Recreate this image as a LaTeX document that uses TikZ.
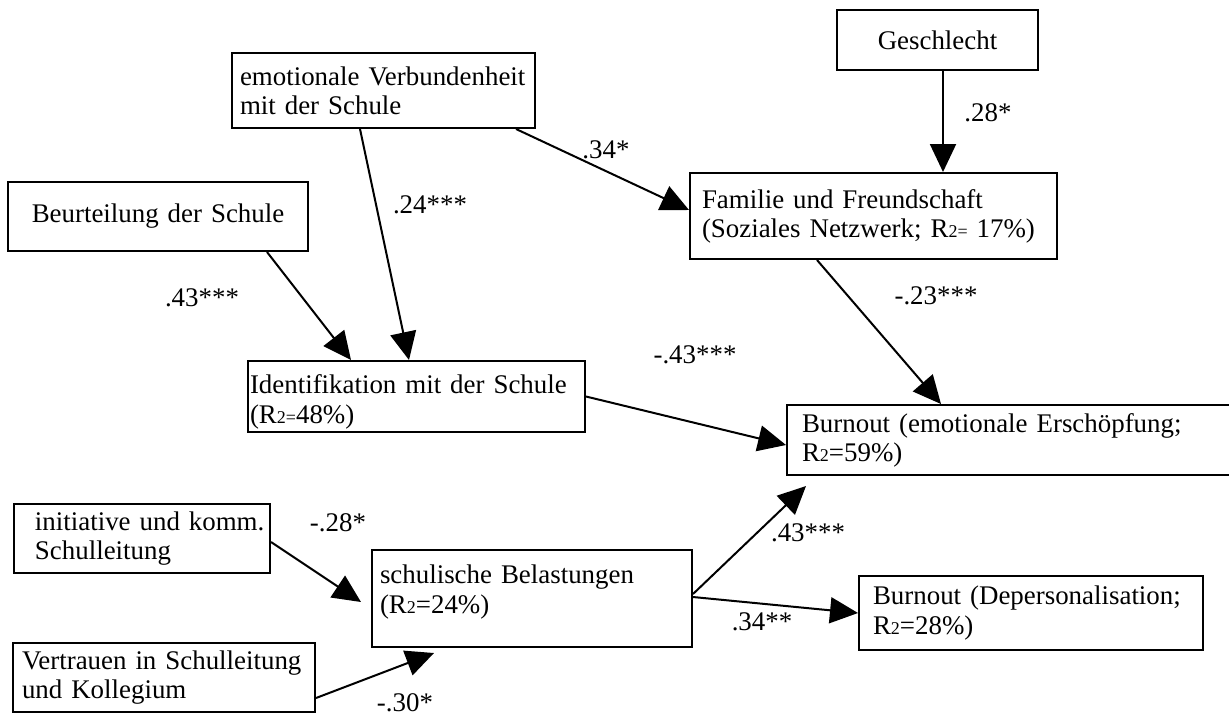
\documentclass[tikz,border=0pt]{standalone}
\usepackage{fontspec}
\setmainfont{Liberation Serif}
\usetikzlibrary{arrows.meta}
\newcommand{\Rsq}[1]{R{\fontsize{9}{9}\selectfont #1}}
\tikzset{
  box/.style={draw, line width=1pt, rectangle, align=left, inner ysep=0pt,
    font=\fontsize{13.45pt}{14.6pt}\selectfont},
  coef/.style={inner sep=0pt, font=\fontsize{13.45pt}{14.6pt}\selectfont},
  effect/.style={line width=1pt, -{Triangle[length=14pt,width=13pt]}}
}
\begin{document}
\begin{tikzpicture}[x=0.5pt, y=-0.5pt]
      \clip (0,0) rectangle (1229,718);
      \node[box, align=center, text width=100.5pt, inner xsep=0pt, minimum height=30pt] (gesch) at (937.5,40) {Geschlecht};
      \node[box, text width=143.5pt, inner xsep=4pt, minimum height=37.5pt] (verb) at (383.5,90.5) {emotionale Verbundenheit\\mit der Schule};
      \node[box, align=center, text width=150pt, inner xsep=0pt, minimum height=34.5pt] (beur) at (158,216.5) {Beurteilung der Schule};
      \node[box, text width=171.5pt, inner xsep=6pt, minimum height=43pt] (fam) at (873.5,216) {Familie und Freundschaft\\(Soziales Netzwerk; \Rsq{2=} 17\%)};
      \node[box, text width=166.5pt, inner xsep=1pt, minimum height=35.5pt, text depth=12pt] (ident) at (416.5,396.5) {Identifikation mit der Schule\\(\Rsq{2=}48\%)};
      \node[box, text width=211.5pt, inner xsep=7.5pt, minimum height=35pt] (emo) at (1013.5,440) {Burnout (emotionale Erschöpfung;\\\Rsq{2}=59\%)};
      \node[box, text width=124pt, inner xsep=2pt, minimum height=34.5pt] (init) at (142,538.5) {\hspace*{8.5pt}initiative und komm.\\\hspace*{8.5pt}Schulleitung};
      \node[box, text width=152pt, inner xsep=4pt, minimum height=48.5pt, text depth=24pt] (schul) at (532,598.5) {schulische Belastungen\\(\Rsq{2}=24\%)};
      \node[box, text width=142pt, inner xsep=4.5pt, minimum height=34.5pt] (vert) at (164,677.5) {Vertrauen in Schulleitung\\und Kollegium};
      \node[box, text width=158pt, inner xsep=7pt, minimum height=37pt] (dep) at (1031,613) {Burnout (Depersonalisation;\\\Rsq{2}=28\%)};

      \draw[effect] ([xshift=64.5pt]verb.south west) -- ([xshift=81pt]ident.north west);
      \draw[effect] ([xshift=142.5pt]verb.south west) -- ([yshift=3pt]fam.west);
      \draw[effect] ([xshift=130pt]beur.south west) -- ([xshift=52pt]ident.north west);
      \draw[effect] ([xshift=2.75pt]gesch.south) -- ([xshift=2.75pt]gesch.south |- fam.north);
      \draw[effect] ([xshift=64pt]fam.south west) -- ([xshift=77.5pt]emo.north west);
      \draw[effect] (ident.east) -- ([yshift=-2.5pt]emo.west);
      \draw[effect] ([yshift=-1.75pt]init.east) -- ([xshift=-5pt,yshift=-1.75pt]schul.west);
      \draw[effect] ([yshift=-10.25pt]vert.east) -- ([xshift=31.5pt,yshift=-2.5pt]schul.south west);
      \draw[effect] ([yshift=2.25pt]schul.east) -- ([xshift=10pt,yshift=-5pt]emo.south west);
      \draw[effect] ([yshift=0.75pt]schul.east) -- (dep.west);

      \node[coef] (c24) at (430,205) {.24***};
      \node[coef] (c34) at (606,150) {.34*};
      \node[coef] (c43) at (202,298) {.43***};
      \node[coef] (c28) at (988,113) {.28*};
      \node[coef] (c23) at (936,296) {-.23***};
      \node[coef] (c43b) at (695,355) {-.43***};
      \node[coef] (c28b) at (338,523) {-.28*};
      \node[coef] (c30) at (405,703) {-.30*};
      \node[coef] (c43c) at (808,533) {.43***};
      \node[coef] (c34b) at (762,622) {.34**};
   \end{tikzpicture}
\end{document}
